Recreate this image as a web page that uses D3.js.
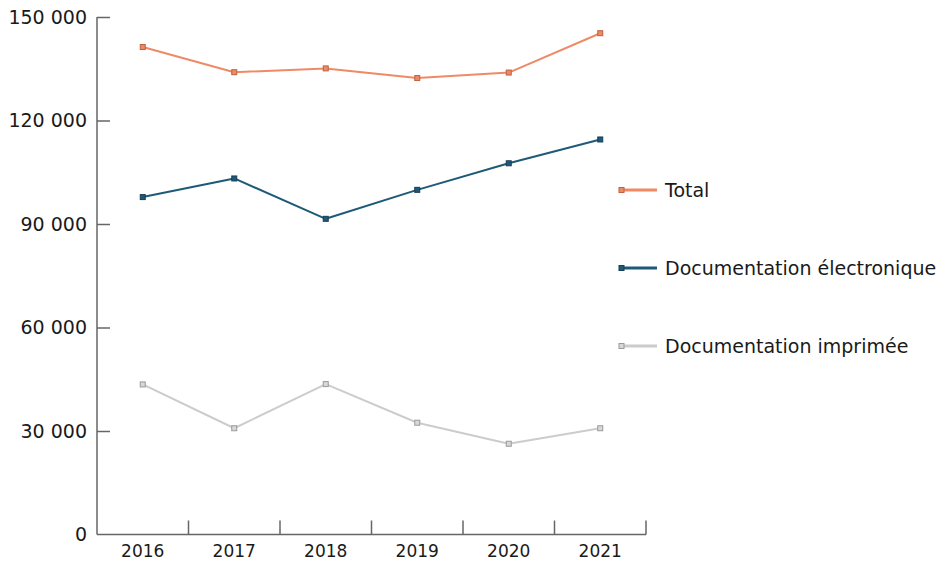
<!DOCTYPE html>
<html>
<head>
<meta charset="utf-8">
<script src="https://cdn.jsdelivr.net/npm/d3@7"></script>
<style>
  html, body { margin: 0; padding: 0; background: #fff; }
  svg { display: block; font-family: "DejaVu Sans", "Noto Sans", sans-serif; }
</style>
</head>
<body>
<svg id="chart" width="942" height="561"></svg>
<script>
const years = ["2016", "2017", "2018", "2019", "2020", "2021"];
const total = [141300, 134000, 135100, 132300, 133900, 145300];
const electronique = [97800, 103200, 91500, 99900, 107600, 114500];
const imprimee = [43500, 30800, 43600, 32400, 26300, 30800];
const seriesNames = ["Total", "Documentation électronique", "Documentation imprimée"];
const yTicks = [0, 30000, 60000, 90000, 120000, 150000];

const colors = ["#ef8a67", "#1e5a78", "#cccccc"];
const markerStroke = ["#c0603f", "#163f55", "#9a9a9a"];
const markerFill = ["#ec8a66", "#1e5a78", "#d8d8d8"];

const svg = d3.select("#chart");
const mLeft = 97, mRight = 646, mTop = 17, mBottom = 534.5;

const x = d3.scaleBand().domain(years).range([mLeft, mRight]);
const y = d3.scaleLinear().domain([0, 150000]).range([mBottom, mTop]);

const fmt = v => d3.format(",")(v).replace(/,/g, " ");

// Y axis
const yAxis = svg.append("g")
  .attr("transform", `translate(${mLeft},0)`)
  .call(d3.axisRight(y).tickValues(yTicks).tickSize(13).tickFormat(""));
yAxis.select(".domain").attr("d", `M0,${mTop}V${mBottom}`).attr("stroke", "#666").attr("stroke-width", 1.5);
yAxis.selectAll(".tick line").attr("stroke", "#666").attr("stroke-width", 1.5);
yAxis.selectAll(".tick").filter(d => d === 0).select("line").remove();

svg.append("g").selectAll("text").data(yTicks).join("text")
  .attr("x", 87).attr("y", d => y(d)).attr("dy", "0.36em")
  .attr("text-anchor", "end").attr("font-size", 19).attr("fill", "#1a1a1a")
  .text(d => fmt(d));

// X axis
const xAxis = svg.append("g")
  .attr("transform", `translate(0,${mBottom})`)
  .call(d3.axisTop(x).tickSize(0).tickFormat(""));
xAxis.select(".domain").attr("d", `M${mLeft},0H${mRight}`).attr("stroke", "#666").attr("stroke-width", 1.5);
xAxis.selectAll(".tick").remove();
const edges = years.map(d => x(d) + x.bandwidth());
svg.append("g").selectAll("line").data(edges).join("line")
  .attr("x1", d => d).attr("x2", d => d)
  .attr("y1", mBottom).attr("y2", mBottom - 14)
  .attr("stroke", "#666").attr("stroke-width", 1.5);

svg.append("g").selectAll("text").data(years).join("text")
  .attr("x", d => x(d) + x.bandwidth() / 2).attr("y", 551).attr("dy", "0.36em")
  .attr("text-anchor", "middle").attr("font-size", 17).attr("fill", "#1a1a1a")
  .text(d => d);

// Lines
const data = [total, electronique, imprimee];
const line = d3.line().x((d, i) => x(years[i]) + x.bandwidth() / 2).y(d => y(d));
const drawOrder = [2, 1, 0];
drawOrder.forEach(s => {
  const g = svg.append("g");
  g.append("path").datum(data[s]).attr("d", line)
    .attr("fill", "none").attr("stroke", colors[s]).attr("stroke-width", 2)
    .attr("stroke-linejoin", "round");
  g.selectAll("rect").data(data[s]).join("rect")
    .attr("x", (d, i) => x(years[i]) + x.bandwidth() / 2 - 2.5)
    .attr("y", d => y(d) - 2.5)
    .attr("width", 5).attr("height", 5)
    .attr("fill", markerFill[s]).attr("stroke", markerStroke[s]).attr("stroke-width", 1);
});

// Legend
const legendY = [190, 268, 346];
const lg = svg.append("g");
seriesNames.forEach((name, s) => {
  lg.append("line").attr("x1", 621).attr("x2", 657).attr("y1", legendY[s]).attr("y2", legendY[s])
    .attr("stroke", colors[s]).attr("stroke-width", 3);
  lg.append("rect").attr("x", 619).attr("y", legendY[s] - 2.5).attr("width", 5).attr("height", 5)
    .attr("fill", markerFill[s]).attr("stroke", markerStroke[s]).attr("stroke-width", 1);
  lg.append("text").attr("x", 665).attr("y", legendY[s]).attr("dy", "0.36em")
    .attr("font-size", 19).attr("fill", "#1a1a1a").text(name);
});
</script>
</body>
</html>
